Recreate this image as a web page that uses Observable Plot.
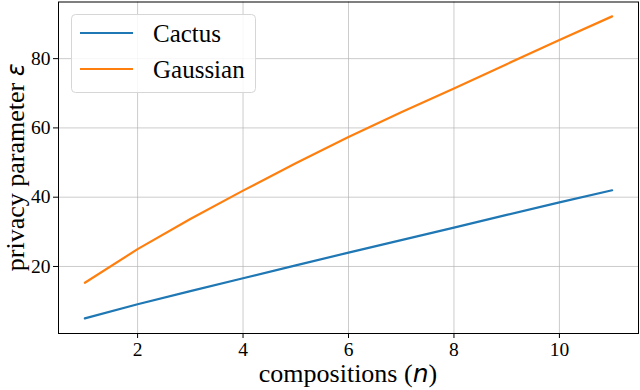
<!DOCTYPE html>
<html><head><meta charset="utf-8">
<script src="https://cdn.jsdelivr.net/npm/d3@7"></script>
<script src="https://cdn.jsdelivr.net/npm/@observablehq/plot@0.6"></script>
<style>body{margin:0;background:#fff} #chart svg{display:block}</style>
</head><body><div id="chart"></div>
<script>
const compositions = [1, 2, 3, 4, 5, 6, 7, 8, 9, 10, 11];
const cactus   = [5.0, 9.1, 12.9, 16.6, 20.3, 24.0, 27.6, 31.2, 34.9, 38.5, 42.0];
const gaussian = [15.3, 25.0, 33.7, 41.9, 49.8, 57.4, 64.5, 71.4, 78.4, 85.4, 92.2];
const seriesNames = ["Cactus", "Gaussian"];
const seriesColors = ["#1f77b4", "#ff7f0e"];
const xTicks = [2, 4, 6, 8, 10];
const yTicks = [20, 40, 60, 80];
const xLabel = "compositions (";
const xLabelVar = "n";
const yLabel = "privacy parameter ";
const yLabelVar = "ε";

const data = [];
compositions.forEach((n, i) => {
  data.push({n, eps: cactus[i], s: seriesNames[0]});
  data.push({n, eps: gaussian[i], s: seriesNames[1]});
});

const serif = "Liberation Serif";
const plot = Plot.plot({
  width: 640, height: 390,
  marginLeft: 58, marginRight: 2, marginTop: 1.5, marginBottom: 57,
  style: {fontFamily: serif, fontSize: "19.5px", background: "#fff", color: "#000", overflow: "visible"},
  x: {domain: [0.5, 11.5]},
  y: {domain: [0.65, 96.35]},
  color: {domain: seriesNames, range: seriesColors},
  marks: [
    Plot.gridX(xTicks, {stroke: "#b0b0b0", strokeOpacity: 0.65, strokeWidth: 1}),
    Plot.gridY(yTicks, {stroke: "#b0b0b0", strokeOpacity: 0.65, strokeWidth: 1}),
    Plot.line(data, {x: "n", y: "eps", stroke: "s", strokeWidth: 2.2}),
    Plot.frame({stroke: "#000", strokeWidth: 1}),
    Plot.axisX(xTicks, {tickSize: 5, tickPadding: 4, label: null, fontSize: 19.5, fontFamily: serif, fontVariant: "normal"}),
    Plot.axisY(yTicks, {tickSize: 5, tickPadding: 3, label: null, fontSize: 19.5, fontFamily: serif, fontVariant: "normal"})
  ]
});
document.getElementById("chart").appendChild(plot);

const svg = d3.select(plot);
const xs = plot.scale("x"), ys = plot.scale("y");
const pLeft = xs.range[0], pRight = xs.range[1];
const pTop = ys.range[1], pBottom = ys.range[0];

// x label
const xl = svg.append("text")
  .attr("x", (pLeft + pRight) / 2).attr("y", 382)
  .attr("text-anchor", "middle")
  .attr("font-family", serif).attr("font-size", 26).attr("fill", "#000");
xl.append("tspan").text(xLabel);
xl.append("tspan").text(xLabelVar).attr("font-family", "DejaVu Sans").attr("font-style", "italic").attr("font-size", 25);
xl.append("tspan").text(")");

// y label
const yl = svg.append("text")
  .attr("transform", `translate(24,${(pTop + pBottom) / 2}) rotate(-90)`)
  .attr("text-anchor", "middle")
  .attr("font-family", serif).attr("font-size", 26).attr("fill", "#000");
yl.append("tspan").text(yLabel);
yl.append("tspan").text(yLabelVar).attr("font-family", "DejaVu Sans").attr("font-style", "italic").attr("font-size", 24);

// legend
const lg = svg.append("g");
lg.append("rect").attr("x", 71.5).attr("y", 14.5).attr("width", 184).attr("height", 78)
  .attr("rx", 4).attr("fill", "#fff").attr("fill-opacity", 0.85).attr("stroke", "#d6d6d6").attr("stroke-width", 1);
seriesNames.forEach((name, i) => {
  const cy = 33 + i * 36;
  lg.append("line").attr("x1", 80).attr("x2", 133).attr("y1", cy).attr("y2", cy)
    .attr("stroke", seriesColors[i]).attr("stroke-width", 2.2);
  lg.append("text").attr("x", 153).attr("y", cy + 9).attr("text-anchor", "start")
    .attr("font-family", serif).attr("font-size", 25).attr("fill", "#000").text(name);
});
</script>
</body></html>
